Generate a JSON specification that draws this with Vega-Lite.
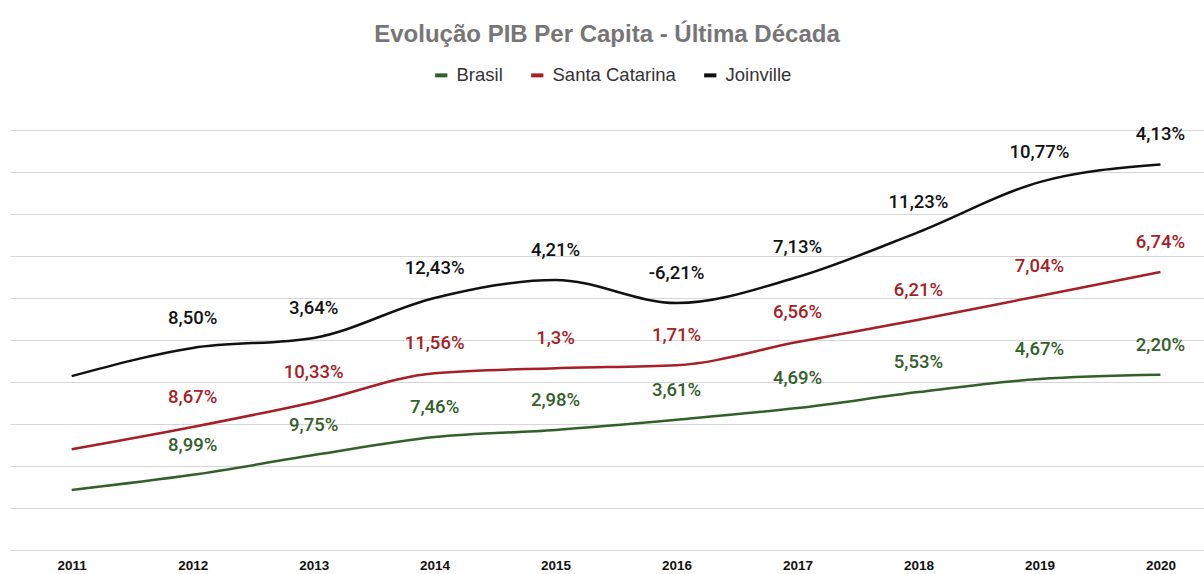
{
  "$schema": "https://vega.github.io/schema/vega-lite/v6.json",
  "width": 1194,
  "height": 420,
  "autosize": {"type": "none"},
  "padding": {"left": 10, "top": 130, "right": 0, "bottom": 24},
  "background": "#ffffff",
  "config": {"view": {"stroke": null}},
  "title": {
    "text": "Evolução PIB Per Capita - Última Década",
    "font": "Liberation Sans",
    "fontSize": 24,
    "fontWeight": "bold",
    "color": "#767676",
    "anchor": "middle",
    "offset": 19
  },
  "data": {
    "values": [
      {"ano": 2011, "serie": "Brasil", "valor": 1.43, "rotulo": ""},
      {"ano": 2012, "serie": "Brasil", "valor": 1.79, "rotulo": "8,99%"},
      {"ano": 2013, "serie": "Brasil", "valor": 2.26, "rotulo": "9,75%"},
      {"ano": 2014, "serie": "Brasil", "valor": 2.69, "rotulo": "7,46%"},
      {"ano": 2015, "serie": "Brasil", "valor": 2.86, "rotulo": "2,98%"},
      {"ano": 2016, "serie": "Brasil", "valor": 3.1, "rotulo": "3,61%"},
      {"ano": 2017, "serie": "Brasil", "valor": 3.38, "rotulo": "4,69%"},
      {"ano": 2018, "serie": "Brasil", "valor": 3.76, "rotulo": "5,53%"},
      {"ano": 2019, "serie": "Brasil", "valor": 4.07, "rotulo": "4,67%"},
      {"ano": 2020, "serie": "Brasil", "valor": 4.17, "rotulo": "2,20%"},
      {"ano": 2011, "serie": "Santa Catarina", "valor": 2.4, "rotulo": ""},
      {"ano": 2012, "serie": "Santa Catarina", "valor": 2.93, "rotulo": "8,67%"},
      {"ano": 2013, "serie": "Santa Catarina", "valor": 3.52, "rotulo": "10,33%"},
      {"ano": 2014, "serie": "Santa Catarina", "valor": 4.21, "rotulo": "11,56%"},
      {"ano": 2015, "serie": "Santa Catarina", "valor": 4.33, "rotulo": "1,3%"},
      {"ano": 2016, "serie": "Santa Catarina", "valor": 4.4, "rotulo": "1,71%"},
      {"ano": 2017, "serie": "Santa Catarina", "valor": 4.95, "rotulo": "6,56%"},
      {"ano": 2018, "serie": "Santa Catarina", "valor": 5.48, "rotulo": "6,21%"},
      {"ano": 2019, "serie": "Santa Catarina", "valor": 6.05, "rotulo": "7,04%"},
      {"ano": 2020, "serie": "Santa Catarina", "valor": 6.62, "rotulo": "6,74%"},
      {"ano": 2011, "serie": "Joinville", "valor": 4.14, "rotulo": ""},
      {"ano": 2012, "serie": "Joinville", "valor": 4.81, "rotulo": "8,50%"},
      {"ano": 2013, "serie": "Joinville", "valor": 5.05, "rotulo": "3,64%"},
      {"ano": 2014, "serie": "Joinville", "valor": 6.0, "rotulo": "12,43%"},
      {"ano": 2015, "serie": "Joinville", "valor": 6.43, "rotulo": "4,21%"},
      {"ano": 2016, "serie": "Joinville", "valor": 5.88, "rotulo": "-6,21%"},
      {"ano": 2017, "serie": "Joinville", "valor": 6.5, "rotulo": "7,13%"},
      {"ano": 2018, "serie": "Joinville", "valor": 7.57, "rotulo": "11,23%"},
      {"ano": 2019, "serie": "Joinville", "valor": 8.76, "rotulo": "10,77%"},
      {"ano": 2020, "serie": "Joinville", "valor": 9.18, "rotulo": "4,13%"}
    ]
  },
  "encoding": {
    "x": {
      "field": "ano",
      "type": "quantitative",
      "scale": {"domain": [2010.49, 2020.36], "nice": false, "zero": false},
      "axis": {
        "title": null,
        "values": [2011, 2012, 2013, 2014, 2015, 2016, 2017, 2018, 2019, 2020],
        "format": "d",
        "grid": false,
        "ticks": false,
        "domain": false,
        "labelFlush": false,
        "labelFont": "Liberation Sans",
        "labelFontSize": 13.5,
        "labelFontWeight": "bold",
        "labelColor": "#111111",
        "labelPadding": 8
      }
    },
    "y": {
      "field": "valor",
      "type": "quantitative",
      "scale": {"domain": [0, 10], "nice": false},
      "axis": {
        "title": null,
        "values": [0, 1, 2, 3, 4, 5, 6, 7, 8, 9, 10],
        "labels": false,
        "ticks": false,
        "domain": false,
        "grid": true,
        "gridColor": "#d6d6d6",
        "gridWidth": 1
      }
    },
    "color": {
      "field": "serie",
      "type": "nominal",
      "scale": {
        "domain": ["Brasil", "Santa Catarina", "Joinville"],
        "range": ["#33602a", "#a61e26", "#111111"]
      },
      "legend": {
        "title": null,
        "orient": "none",
        "legendX": 422,
        "legendY": -64,
        "direction": "horizontal",
        "symbolType": "stroke",
        "symbolStrokeWidth": 4,
        "symbolSize": 150,
        "labelFont": "Liberation Sans",
        "labelFontSize": 18.5,
        "labelColor": "#333333",
        "labelOffset": 6,
        "columnPadding": 20
      }
    }
  },
  "layer": [
    {
      "mark": {"type": "line", "interpolate": "monotone", "strokeWidth": 2.5}
    },
    {
      "mark": {"type": "text", "dy": -30, "font": "Roboto", "fontSize": 18.5, "fontWeight": 500},
      "encoding": {"text": {"field": "rotulo"}}
    }
  ]
}
